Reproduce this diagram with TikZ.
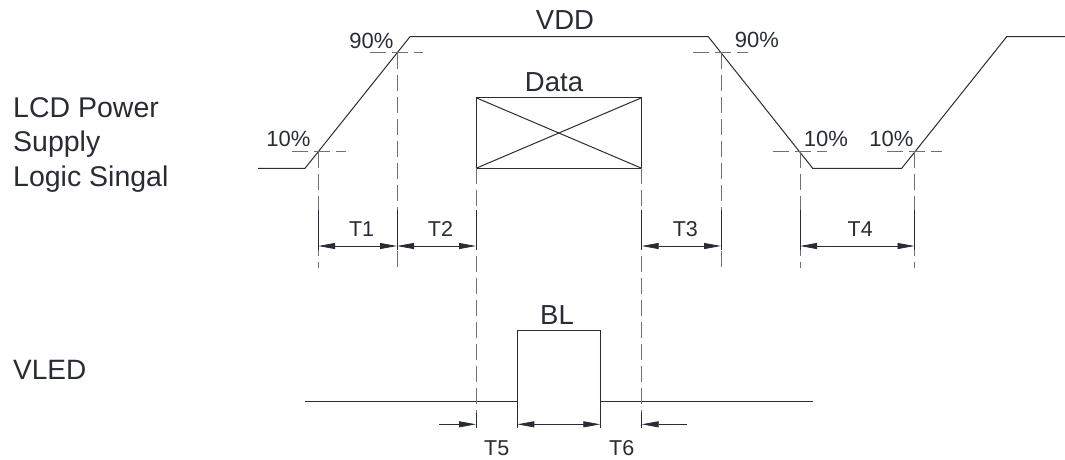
\documentclass[tikz,border=0pt]{standalone}
\usepackage{fontspec}
\setmainfont{Liberation Sans}
\usetikzlibrary{arrows.meta}
\definecolor{inkgray}{RGB}{40,44,52}
\definecolor{guidegray}{RGB}{112,112,112}
\tikzstyle{signal} = [draw=inkgray, line width=1pt]
\tikzstyle{guide} = [draw=guidegray, line width=0.9pt, dash pattern=on 16pt off 6pt]
\tikzstyle{extline} = [draw=inkgray, line width=0.9pt]
\tikzstyle{dimarrow} = [draw=inkgray, line width=0.8pt, >={Triangle[length=17pt,width=6pt]}]
\tikzstyle{biglabel} = [text=inkgray, inner sep=0pt, font=\fontsize{27.5}{34.5}\selectfont]
\tikzstyle{pctlabel} = [text=inkgray, inner sep=0pt, font=\fontsize{22}{26}\selectfont]
\tikzstyle{timelabel} = [text=inkgray, inner sep=0pt, font=\fontsize{21.5}{25}\selectfont]

\begin{document}
\begin{tikzpicture}[x=1pt, y=-1pt]
\useasboundingbox (0,0) rectangle (1065,459);

% Nodes
\node (lcd) [biglabel, anchor=base west, align=left, font=\fontsize{28.5}{34.5}\selectfont] at (13,186) {LCD Power\\Supply\\Logic Singal};
\node (vled) [biglabel, anchor=base west, font=\fontsize{28}{34}\selectfont] at (13,379) {VLED};
\node (vdd) [biglabel, anchor=base] at (565,29.3) {VDD};
\node (data) [biglabel, anchor=base] at (554,91) {Data};
\node (bl) [biglabel, anchor=base] at (557,324) {BL};

\node (p90a) [pctlabel, anchor=base] at (371.5,48) {90\%};
\node (p10a) [pctlabel, anchor=base] at (288.5,146.5) {10\%};
\node (p90b) [pctlabel, anchor=base] at (757,47.5) {90\%};
\node (p10b) [pctlabel, anchor=base] at (826,146) {10\%};
\node (p10c) [pctlabel, anchor=base] at (891.5,146) {10\%};

\node (t5) [timelabel, anchor=base] at (496.7,455) {T5};
\node (t6) [timelabel, anchor=base] at (621.7,455) {T6};

% Points
\coordinate (r10) at (318.2,151.7);
\coordinate (r90) at (397,52.7);
\coordinate (f90) at (721,52.7);
\coordinate (f10) at (800,151.7);
\coordinate (s10) at (914.5,151.7);
\coordinate (dtl) at (476,97.7);
\coordinate (dbl) at (476,168.3);
\coordinate (dtr) at (641.7,97.7);
\coordinate (dbr) at (641.7,168.3);
\coordinate (bll) at (517.3,401);
\coordinate (blr) at (600.3,401);
\coordinate (extlow) at (0,268);
\coordinate (exttop) at (0,210);
\coordinate (exthit) at (0,250);
\coordinate (dimy) at (0,246);
\coordinate (vlow) at (0,428);
\coordinate (vext) at (0,413);
\coordinate (vdim) at (0,424.3);

% Waveforms
\draw [signal] (258,168.3) -- (305,168.3) -- (410,36.7) -- (708.3,36.7) -- (812.7,168.3)
  -- (901.7,168.3) -- (1006.7,36.7) -- (1065,36.7);
\draw [signal] (dtl) rectangle (dbr);
\draw [signal] (dtl) -- (dbr);
\draw [signal] (dbl) -- (dtr);
\draw [signal] (305,401) -- (bll) -- (517.3,330.7) -- (600.3,330.7) -- (blr) -- (812.7,401);
\draw [extline] (bll) -- (bll |- vlow);
\draw [extline] (blr) -- (blr |- vlow);

% Level guides
\draw [guide] (370,52.7) -- (423,52.7);
\draw [guide] (291.7,151.7) -- (345.7,151.7);
\draw [guide] (693.3,52.7) -- (748.3,52.7);
\draw [guide] (772.7,151.7) -- (826.7,151.7);
\draw [guide] (887.3,151.7) -- (941.7,151.7);

% Time guides
\foreach \p in {r10, r90, f90, f10, s10} {
  \draw [guide] (\p) -- (\p |- extlow);
  \draw [extline] (\p |- exttop) -- (\p |- exthit);
}
\foreach \p in {dbl, dbr} {
  \draw [guide] (\p) -- (\p |- vlow);
  \draw [extline] (\p |- vext) -- (\p |- vlow);
  \draw [extline] (\p |- exttop) -- (\p |- exthit);
}

% Dimensions
\draw [dimarrow, <->] (r10 |- dimy) -- node[timelabel, above=9pt, xshift=4pt]{T1} (r90 |- dimy);
\draw [dimarrow, <->] (r90 |- dimy) -- node[timelabel, above=9pt, xshift=4pt]{T2} (dbl |- dimy);
\draw [dimarrow, <->] (dbr |- dimy) -- node[timelabel, above=9pt, xshift=4pt]{T3} (f90 |- dimy);
\draw [dimarrow, <->] (f10 |- dimy) -- node[timelabel, above=9pt, xshift=3pt]{T4} (s10 |- dimy);
\draw [dimarrow, <->] (bll |- vdim) -- (blr |- vdim);
\draw [dimarrow, ->] (439,424.3) -- (dbl |- vdim);
\draw [dimarrow, ->] (687,424.3) -- (dbr |- vdim);

\end{tikzpicture}
\end{document}
